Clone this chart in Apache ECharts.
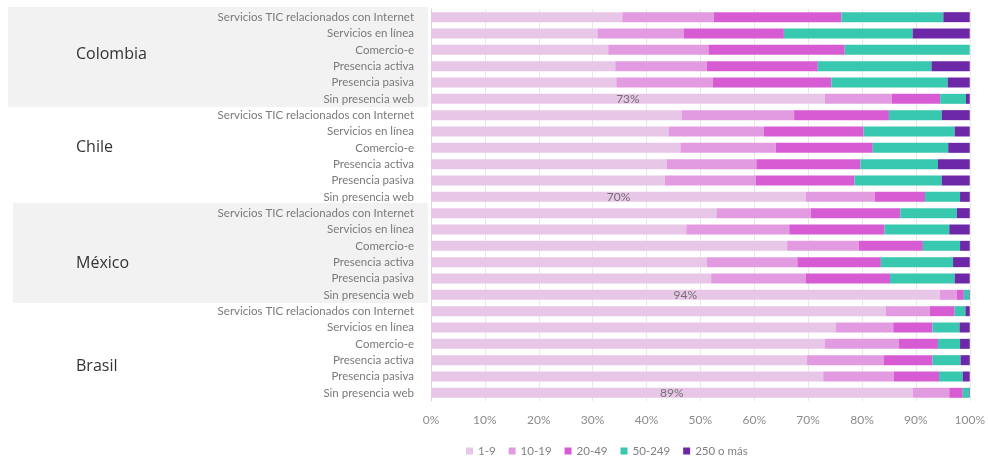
<!DOCTYPE html>
<html>
<head>
<meta charset="utf-8">
<script src="https://cdn.jsdelivr.net/npm/echarts@6/dist/echarts.min.js"></script>
<style>
html,body{margin:0;padding:0;background:#fff;}
#chart{width:988px;height:458px;}
</style>
</head>
<body>
<div id="chart"></div>
<script>
const countries = ['Colombia', 'Chile', 'México', 'Brasil'];
const presenceTypes = ['Servicios TIC relacionados con Internet', 'Servicios en línea', 'Comercio-e', 'Presencia activa', 'Presencia pasiva', 'Sin presencia web'];
const sizeClasses = ['1-9', '10-19', '20-49', '50-249', '250 o más'];

// rows: Colombia(6), Chile(6), México(6), Brasil(6) in presenceTypes order
const size1to9 = [35.5, 30.9, 32.9, 34.2, 34.4, 73.1,
                  46.5, 44.1, 46.3, 43.8, 43.4, 69.6,
                  53.0, 47.4, 66.1, 51.2, 52.0, 94.4,
                  84.4, 75.1, 73.1, 69.8, 72.8, 89.4];
const size10to19 = [17.0, 16.0, 18.6, 17.0, 17.9, 12.4,
                    20.9, 17.7, 17.7, 16.6, 16.9, 12.8,
                    17.5, 19.1, 13.3, 16.8, 17.6, 3.2,
                    8.2, 10.7, 13.7, 14.2, 13.1, 6.8];
const size20to49 = [23.7, 18.6, 25.3, 20.6, 22.0, 9.0,
                    17.6, 18.5, 18.0, 19.3, 18.3, 9.3,
                    16.6, 17.7, 11.9, 15.5, 15.6, 1.3,
                    4.6, 7.3, 7.3, 9.1, 8.4, 2.5];
const size50to249 = [18.9, 23.9, 23.2, 21.1, 21.6, 4.8,
                     9.8, 16.9, 14.0, 14.4, 16.2, 6.5,
                     10.5, 12.0, 6.9, 13.4, 12.0, 1.0,
                     2.0, 5.0, 4.1, 5.2, 4.4, 1.2];
const size250plus = [4.9, 10.6, 0.0, 7.1, 4.1, 0.7,
                     5.2, 2.8, 4.0, 5.9, 5.2, 1.8,
                     2.4, 3.8, 1.8, 3.1, 2.8, 0.1,
                     0.8, 1.9, 1.8, 1.7, 1.3, 0.1];
const xTicks = [0, 10, 20, 30, 40, 50, 60, 70, 80, 90, 100];

const colors = ['#e8c6e7', '#e29be0', '#d75cd4', '#38c8b0', '#6d28a8'];

const categories = [];
countries.forEach(c => presenceTypes.forEach(p => categories.push(c + '|' + p)));
const seriesValues = [size1to9, size10to19, size20to49, size50to249, size250plus];

const chart = echarts.init(document.getElementById('chart'));
const option = {
  backgroundColor: '#ffffff',
  animation: false,
  color: colors,
  grid: { left: 431, right: 16, top: 9, bottom: 57, containLabel: false },
  legend: {
    left: 461, top: 440,
    itemWidth: 7, itemHeight: 7, itemGap: 13,
    icon: 'rect',
    textStyle: { color: '#808080', fontSize: 11.5, fontFamily: 'Lato' },
    data: sizeClasses
  },
  xAxis: {
    type: 'value', min: xTicks[0], max: xTicks[xTicks.length - 1], interval: 10,
    axisLine: { show: false }, axisTick: { show: false },
    axisLabel: { formatter: v => v + '%', color: '#8c8c8c', fontSize: 12, margin: 13, fontFamily: 'Lato' },
    splitLine: { show: true, lineStyle: { color: '#e8e8e8', width: 1 } }
  },
  yAxis: {
    type: 'category', inverse: true, data: categories,
    axisLine: { show: true, lineStyle: { color: '#d9d9d9' } },
    axisTick: { show: false },
    axisLabel: {
      formatter: v => v.split('|')[1],
      color: '#7a7a7a', fontSize: 11.5, margin: 17, fontFamily: 'Lato'
    }
  },
  series: sizeClasses.map((name, si) => ({
    name: name, type: 'bar', stack: 'total', barWidth: 10,
    data: seriesValues[si],
    label: si === 0 ? {
      show: true, position: 'inside',
      formatter: p => p.name.split('|')[1] === presenceTypes[5] ? Math.round(p.value) + '%' : '',
      color: '#707070', fontSize: 12, fontFamily: 'Lato'
    } : { show: false }
  }))
};
chart.setOption(option);

function rowY(i) { return chart.convertToPixel({ yAxisIndex: 0 }, categories[i]); }
const band = rowY(1) - rowY(0);
const gridLeft = option.grid.left;
const graphics = [];
const shaded = { 'Colombia': 8, 'México': 13 };
const labelShift = { 'Colombia': -0.2, 'Chile': -0.5, 'México': 0.55, 'Brasil': 0.9 };
countries.forEach((c, ci) => {
  const first = ci * presenceTypes.length;
  const last = first + presenceTypes.length - 1;
  const top = rowY(first) - band / 2 - 2;
  const bottom = rowY(last) + band / 2;
  if (shaded[c] !== undefined) {
    graphics.push({
      type: 'rect', z: -10, silent: true,
      shape: { x: shaded[c], y: top, width: gridLeft - 3 - shaded[c], height: bottom - top },
      style: { fill: '#f2f2f2' }
    });
  }
  const midY = (rowY(first) + rowY(last)) / 2 + labelShift[c] * band;
  graphics.push({
    type: 'text', z: 10, silent: true,
    x: 76, y: midY,
    style: { text: c, fill: '#333333', fontSize: 16, fontFamily: 'Open Sans', verticalAlign: 'middle', align: 'left' }
  });
});
chart.setOption({ graphic: graphics });
</script>
</body>
</html>
